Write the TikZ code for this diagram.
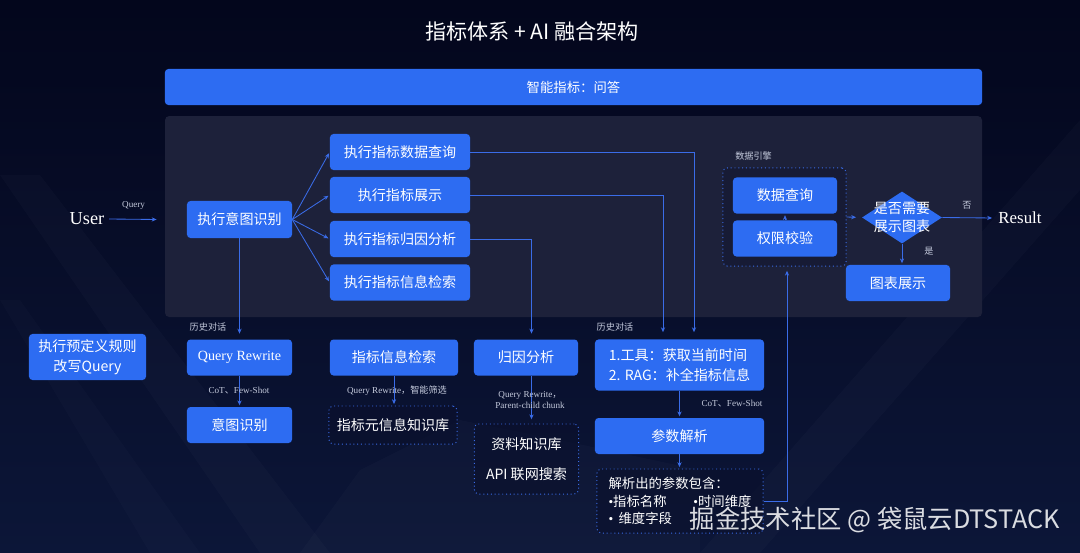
\documentclass[tikz,border=0pt]{standalone}
\usepackage{fontspec}
\setmainfont{Liberation Serif}
\newfontfamily\cjk{Noto Sans CJK SC}
\usetikzlibrary{arrows.meta,positioning,calc,shapes.geometric}
\definecolor{bgtop}{RGB}{3,6,28}
\definecolor{bgbot}{RGB}{12,22,56}
\definecolor{panelbg}{RGB}{29,33,58}
\definecolor{boxblue}{RGB}{45,108,242}
\definecolor{linkblue}{RGB}{58,108,232}
\definecolor{notegray}{RGB}{196,202,220}
\definecolor{kbfill}{RGB}{10,16,44}
\newcommand{\bul}{{\rmfamily •}}

\begin{document}
\begin{tikzpicture}[x=0.025cm, y=-0.025cm,
  bx/.style={fill=boxblue, rounded corners=2.5pt, text=white, align=center,
    inner sep=0pt, font=\cjk\fontsize{10}{14}\selectfont},
  kb/.style={draw=linkblue, dotted, line width=0.7pt, rounded corners=3pt,
    fill=kbfill, fill opacity=0.6, text opacity=1, text=white,
    align=center, inner sep=0pt, font=\cjk\fontsize{10}{14}\selectfont},
  lk/.style={draw=linkblue, line width=0.6pt,
    -{Stealth[length=3.5pt,width=3pt]}, shorten >=1pt},
  nt/.style={text=notegray, inner sep=0pt, font=\fontsize{6.5}{9}\selectfont},
  cnt/.style={nt, font=\cjk\fontsize{6.5}{9}\selectfont},
]
\useasboundingbox (0,0) rectangle (1080,553);
% background
\shade[top color=bgtop, bottom color=bgbot] (0,0) rectangle (1080,553);
\fill[white, opacity=0.018] (0,175) -- (40,175) -- (330,553) -- (260,553) -- cycle;
\fill[white, opacity=0.015] (0,300) -- (20,300) -- (200,553) -- (150,553) -- cycle;
\fill[white, opacity=0.02] (1080,120) -- (1080,190) -- (760,553) -- (700,553) -- cycle;
\fill[white, opacity=0.02] (300,553) -- (360,470) -- (460,420) -- (560,440)
  -- (700,470) -- (700,553) -- cycle;
% title and top bar
\node[text=white, font=\cjk\fontsize{15}{18}\selectfont] (title) at (532,31)
  {指标体系 + AI 融合架构};
\node[bx, minimum width=20.425cm, minimum height=0.9cm,
  font=\cjk\fontsize{9.5}{12}\selectfont] (bar) at (573.5,87) {智能指标：问答};
\fill[panelbg, rounded corners=3pt] (165,116) rectangle (982,317);
% intent recognition
\node[text=white, font=\fontsize{13}{15}\selectfont] (user) at (87,219) {User};
\node[bx, minimum width=2.625cm, minimum height=0.925cm] (intent) at (239.5,219.5)
  {执行意图识别};
\draw[lk] (user.east) -- (intent.west -| 158,0) node[nt, pos=0.5, above=7pt] {Query};
\foreach \n/\t/\y in {qdata/执行指标数据查询/152, qshow/执行指标展示/195,
    qattr/执行指标归因分析/239, qinfo/执行指标信息检索/282.5} {
  \node[bx, minimum width=3.5cm, minimum height=0.9cm] (\n) at (400,\y) {\t};
  \draw[lk] (intent.east) -- (\n.west);
}
% lower branches
\node[bx, minimum width=2.925cm, minimum height=1.15cm] (rule) at (87.5,357)
  {执行预定义规则\\改写Query};
\node[bx, minimum width=2.625cm, minimum height=0.9cm,
  font=\fontsize{10}{12}\selectfont] (rewrite) at (239.5,357.5) {Query Rewrite};
\node[bx, minimum width=2.625cm, minimum height=0.9cm] (recog) at (239.5,425)
  {意图识别};
\node[bx, minimum width=3.2cm, minimum height=0.9cm] (info) at (394,357.5)
  {指标信息检索};
\node[kb, minimum width=3.2cm, minimum height=0.95cm] (infokb) at (393,425)
  {指标元信息知识库};
\node[bx, minimum width=2.6cm, minimum height=0.9cm] (attr) at (526,357.5)
  {归因分析};
\node[kb, minimum width=2.6cm, minimum height=1.75cm, font=\cjk\fontsize{10}{21}\selectfont]
  (attrkb) at (526.5,459) {资料知识库\\API 联网搜索};
\node[bx, minimum width=4.225cm, minimum height=1.275cm, align=left] (tool)
  at (679.5,365) {1.工具：获取当前时间\\2. RAG：补全指标信息};
\node[bx, minimum width=4.225cm, minimum height=0.9cm] (parse) at (679.5,436)
  {参数解析};
\node[kb, minimum width=4.15cm, minimum height=1.6cm, align=left,
  font=\cjk\fontsize{9.5}{12.5}\selectfont] (params) at (680,501)
  {解析出的参数包含：\\\bul 指标名称\hspace{2em}\bul 时间维度\\\bul\hspace{0.4em}维度字段};
\draw[lk, shorten >=4pt] (intent.south) -- (rewrite.north);
\node[cnt] (hist1) at (208,327) {历史对话};
\draw[lk] (rewrite.south) -- (recog.north);
\node[nt] (cot1) at (239,391) {CoT{\cjk 、}Few-Shot};
\draw[lk] (info.south) -- (infokb.north -| info.south);
\node[nt] (qr1) at (397,391) {Query Rewrite{\cjk ，智能筛选}};
\draw[lk, shorten >=4pt] (qattr.east) -| ($(attr.north)+(5.5,0)$);
\draw[lk, shorten >=3pt] ($(attr.south)+(5.5,0)$) -- ($(attrkb.north)+(5,0)$);
\node[nt, align=center] (qr2) at (530,400)
  {Query Rewrite{\cjk ，}\\[-1pt]Parent-child chunk};
\draw[lk, shorten >=5pt] (qshow.east) -| ($(tool.north)+(-16.5,0)$);
\draw[lk, shorten >=5pt] (qdata.east) -| ($(tool.north)+(14.5,0)$);
\node[cnt] (hist2) at (615,327) {历史对话};
\draw[lk] (tool.south) -- (parse.north);
\node[nt] (cot2) at (732,404) {CoT{\cjk 、}Few-Shot};
\draw[lk] (parse.south) -- (params.north -| parse.south);
% data engine
\node[kb, minimum width=3.075cm, minimum height=2.45cm, fill opacity=0.3]
  (engine) at (784.5,217) {};
\node[cnt, anchor=west] (englabel) at (735,156) {数据引擎};
\node[bx, minimum width=2.6cm, minimum height=0.9cm] (dq) at (785,195.5) {数据查询};
\node[bx, minimum width=2.6cm, minimum height=0.9cm] (auth) at (785,238.5) {权限校验};
\draw[lk] (auth.north) -- (dq.south);
\draw[lk, shorten >=3pt] (params.east) -| ($(engine.south)+(2.5,0)$);
% decision
\node[diamond, fill=boxblue, minimum width=2cm, minimum height=1.3cm,
  inner sep=0pt] (dia) at (902,217.5) {};
\node[text=white, align=center, inner sep=0pt,
  font=\cjk\fontsize{10}{13}\selectfont] (diatxt) at (dia) {是否需要\\展示图表};
\draw[lk, shorten >=4pt] (engine.east) -- (dia.west);
\node[text=white, font=\fontsize{12}{14}\selectfont] (result) at (1020,218) {Result};
\draw[lk] (dia.east) -- (result.west);
\node[cnt] (no) at (967,205) {否};
\node[bx, minimum width=2.6cm, minimum height=0.9cm] (chart) at (898,283) {图表展示};
\draw[lk] (dia.south) -- (dia.south |- chart.north);
\node[cnt] (yes) at (929,251) {是};
% watermark
\node[text=white, opacity=0.85, font=\cjk\fontsize{18}{20}\selectfont]
  (mark) at (875,520) {掘金技术社区 @ 袋鼠云DTSTACK};
\end{tikzpicture}
\end{document}
